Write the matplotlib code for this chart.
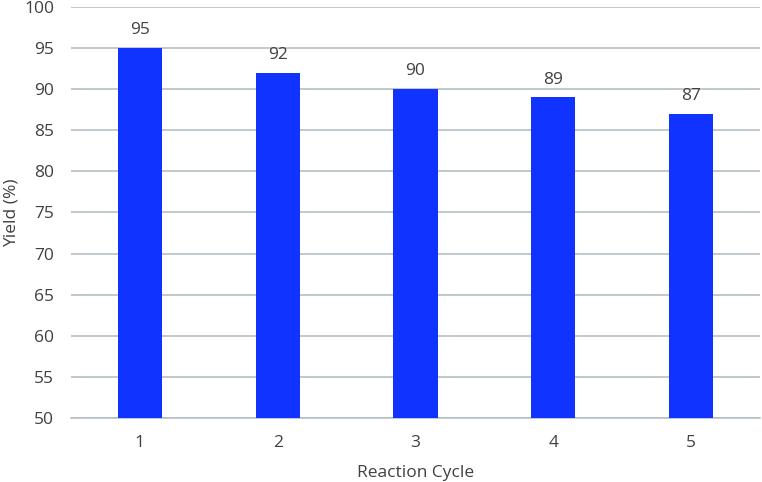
import matplotlib
matplotlib.use("Agg")
import matplotlib.pyplot as plt

cycles = ["1", "2", "3", "4", "5"]
yields = [95, 92, 90, 89, 87]

plt.rcParams['font.family'] = ['Open Sans', 'DejaVu Sans']
text_color = '#404040'
grid_color = '#b4c0c6'
fs = 12.5

fig = plt.figure(figsize=(7.62, 4.82), dpi=100)
ax = fig.add_axes([0.0932, 0.1328, 0.9042, 0.8527])

x = range(len(cycles))
ax.bar(x, yields, width=0.32, color='#1133ff', zorder=3)
for xi, v in zip(x, yields):
    ax.text(xi, v + 1.2, str(v), ha='center', va='bottom', fontsize=fs, color=text_color)

ax.set_xlim(-0.5, len(cycles) - 0.5)
ax.set_ylim(50, 100)
ax.set_yticks(range(50, 101, 5))
ax.set_xticks(list(x))
ax.set_xticklabels(cycles)
ax.tick_params(length=0, labelsize=fs, labelcolor=text_color)
ax.tick_params(axis='x', pad=12)
ax.tick_params(axis='y', pad=12)
ax.grid(axis='y', color=grid_color, linewidth=1.2, zorder=0)
for s in ['top', 'right', 'left']:
    ax.spines[s].set_visible(False)
ax.spines['bottom'].set_color(grid_color)
ax.spines['bottom'].set_linewidth(1.2)

ax.set_xlabel('Reaction Cycle', fontsize=fs, color=text_color, labelpad=10)
# y label placed in figure coords so it does not get clipped
fig.text(12 / 762, 0.559, 'Yield (%)', rotation=90, ha='center', va='center',
         fontsize=fs, color=text_color)

fig.savefig('out.png', dpi=100)
